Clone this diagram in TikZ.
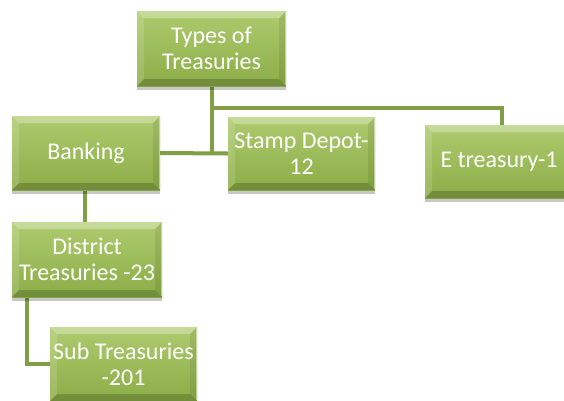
\documentclass[tikz,border=0pt]{standalone}
\usepackage{fontspec}
\setmainfont{Carlito}
\usetikzlibrary{calc,shadows,backgrounds}
\definecolor{gtop}{HTML}{AECB6E}
\definecolor{gbot}{HTML}{8BAD47}
\definecolor{gline}{HTML}{7F9E45}
\tikzset{
  tbox/.style={
    minimum width=#1, minimum height=74pt, inner sep=0pt, align=center,
    top color=gtop, bottom color=gbot, draw=none, text=white,
    font=\fontsize{24}{26}\selectfont,
    drop shadow={shadow xshift=0pt, shadow yshift=-4pt, opacity=.22, fill=black},
    path picture={
      \coordinate (sw) at (path picture bounding box.south west);
      \coordinate (ne) at (path picture bounding box.north east);
      \coordinate (nw) at (sw|-ne);
      \coordinate (se) at (ne|-sw);
      \fill[white,opacity=.30] (nw) -- (ne) -- ($(ne)+(-7pt,-7pt)$) -- ($(nw)+(7pt,-7pt)$) -- cycle;
      \fill[white,opacity=.14] (nw) -- (sw) -- ($(sw)+(7pt,7pt)$) -- ($(nw)+(7pt,-7pt)$) -- cycle;
      \fill[black,opacity=.08] (ne) -- (se) -- ($(se)+(-7pt,7pt)$) -- ($(ne)+(-7pt,-7pt)$) -- cycle;
      \fill[black,opacity=.18] (sw) -- (se) -- ($(se)+(-7pt,7pt)$) -- ($(sw)+(7pt,7pt)$) -- cycle;
      \draw[white,opacity=.45,line width=1pt] ($(ne)+(-0.5pt,-1pt)$) -- ($(se)+(-0.5pt,1pt)$);
    }},
  conn/.style={draw=gline, line width=4pt}
}
\begin{document}
\begin{tikzpicture}[x=1pt,y=-1pt]
\useasboundingbox (0,0) rectangle (564,400);
\node[tbox=149pt, minimum height=75pt] (top) at (211.5,48.5) {Types of\\Treasuries};
\node[tbox=148pt] (banking) at (86,153) {Banking};
\node[tbox=147pt, minimum height=73pt] (stamp) at (301.5,153.5) {Stamp Depot-\\12};
\node[tbox=148pt, minimum height=73pt] (etreas) at (499,161.5) {E treasury-1};
\node[tbox=150pt, minimum height=75pt] (district) at (87,259.5) {District\\Treasuries -23};
\node[tbox=147pt] (sub) at (123.5,364) {Sub Treasuries\\-201};
\coordinate (j1) at (211.5,108);
\begin{scope}[on background layer]
\fill[white] (0,0) rectangle (564,400);
\draw[conn] (top.south) -- (j1) -| ([xshift=3pt]etreas.north);
\draw[conn] (top.south) -- (top.south |- banking.east);
\draw[conn] (banking.east) -- (stamp.west);
\draw[conn] ([xshift=-1pt]banking.south) -- ([xshift=-1pt]banking.south |- district.north);
\draw[conn] ([xshift=-60pt]district.south) |- (sub.west);
\end{scope}
\end{tikzpicture}
\end{document}
